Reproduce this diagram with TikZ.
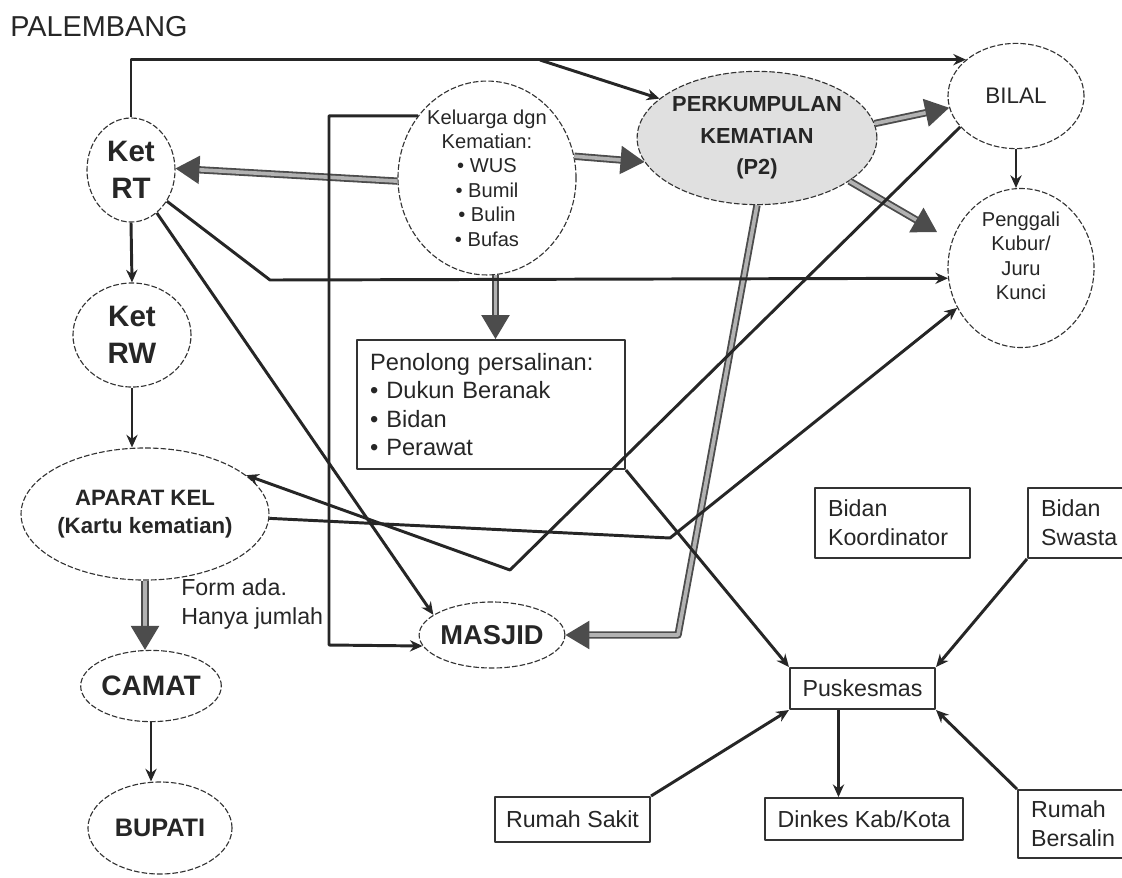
\documentclass[tikz,border=0pt]{standalone}
\usepackage{fontspec}
\setmainfont{Liberation Sans}
\usetikzlibrary{arrows.meta,shapes.geometric}

\tikzset{
  oval/.style={ellipse, draw=black!80, dash pattern=on 4pt off 1.5pt, line width=0.8pt, inner sep=0pt, align=center, text=black!85},
  kotak/.style={rectangle, draw=black!80, line width=1.3pt, inner sep=0pt, text=black!85},
  kiri/.style={kotak, align=left, inner xsep=0.33cm},
  panah/.style={draw=black!85, line width=2.1pt, -{Stealth[length=9pt,width=8pt]}},
  dobel/.style={draw=black!70, double=black!30, double distance=2.6pt, line width=1.3pt, -{Triangle[length=17pt,width=20pt]}},
}

\begin{document}
\begin{tikzpicture}[x=0.025cm, y=-0.025cm, line join=round]
  \useasboundingbox (0,0) rectangle (1122,877);

  \node[anchor=west, inner sep=0pt, text=black!85, font=\fontsize{20.5}{24}\selectfont] (judul) at (10,27) {PALEMBANG};

  %left column
  \node[oval, minimum width=2.2cm, minimum height=2.6cm, font=\fontsize{21}{26}\selectfont\bfseries] (rt) at (131,170) {Ket\\RT};
  \node[oval, minimum width=2.95cm, minimum height=2.6cm, font=\fontsize{21}{26}\selectfont\bfseries] (rw) at (132,335) {Ket\\RW};
  \node[oval, minimum width=4.85cm, minimum height=3.3cm, font=\fontsize{15.8}{20}\selectfont\bfseries] (kel) at (145,514) {APARAT KEL\\(Kartu kematian)};
  \node[oval, minimum width=3.4cm, minimum height=1.78cm, font=\fontsize{20}{24}\selectfont\bfseries] (cmt) at (151,686) {CAMAT};
  \node[oval, minimum width=3.6cm, minimum height=2.3cm, font=\fontsize{18}{22}\selectfont\bfseries] (bpt) at (160,828) {BUPATI};
  \node[anchor=west, inner sep=0pt, align=left, text=black!85, font=\fontsize{16.5}{20}\selectfont] (form) at (181,604) {Form ada.\\Hanya jumlah};

  %middle
  \node[oval, minimum width=4.45cm, minimum height=4.6cm, font=\fontsize{14.3}{17.4}\selectfont] (klg) at (487,178)
       {Keluarga dgn\\Kematian:\\• WUS\\• Bumil\\• Bulin\\• Bufas};
  \node[oval, fill=black!12, minimum width=4.75cm, minimum height=3.33cm, font=\fontsize{15.5}{22.4}\selectfont\bfseries] (ptwo) at (757,138)
       {PERKUMPULAN\\KEMATIAN\\(P2)};
  \node[kiri, minimum width=6.7cm, minimum height=3.23cm, text width=6.04cm, font=\fontsize{16.8}{20}\selectfont] (pen) at (491,404.5)
       {Penolong persalinan:\\• Dukun Beranak\\• Bidan\\• Perawat};
  \node[oval, minimum width=3.28cm, minimum height=1.65cm, font=\fontsize{19.4}{23}\selectfont\bfseries] (msj) at (492,635) {MASJID};

  %right
  \node[oval, minimum width=3.4cm, minimum height=2.63cm, font=\fontsize{16}{20}\selectfont] (bil) at (1016,96) {BILAL};
  \node[oval, minimum width=3.65cm, minimum height=3.88cm, font=\fontsize{14.3}{17.4}\selectfont] (gal) at (1021,268)
       {Penggali\\Kubur/\\Juru\\Kunci\\\mbox{}};

  %boxes
  \foreach \nm/\x/\y/\w/\h/\txt in {bk/892.5/523/3.88/1.75/{Bidan\\Koordinator}, bs/1081.5/523/2.68/1.75/{Bidan\\Swasta},
                                    rb/1076.5/824/2.93/1.7/{Rumah\\Bersalin}}{
    \node[kiri, minimum width=\w cm, minimum height=\h cm, text width=\w cm-0.66cm, font=\fontsize{16.5}{20.5}\selectfont] (\nm) at (\x,\y) {\txt};
  }
  \foreach \nm/\x/\y/\w/\h/\txt in {pk/862.5/688.5/3.63/1.03/Puskesmas, rs/572.5/819.5/3.88/1.13/{Rumah Sakit},
                                    dk/864/819/4.95/1.05/{Dinkes Kab/Kota}}{
    \node[kotak, minimum width=\w cm, minimum height=\h cm, font=\fontsize{16.5}{20}\selectfont] (\nm) at (\x,\y) {\txt};
  }

  \coordinate (cab) at (540,60);
  \coordinate (ujung) at (937,232);
  \coordinate (sudut) at (678,635);

  %double arrows
  \draw[dobel] (klg.182) -- (rt.2);
  \draw[dobel] (klg.14) -- (ptwo.192);
  \draw[dobel] (klg.275) -- (klg.275 |- pen.north);
  \draw[dobel] (ptwo.7) -- (bil.190);
  \draw[dobel] (ptwo.335) -- (ujung);
  \draw[dobel] (ptwo.south) -- (sudut) -- (msj.east);
  \draw[dobel] (kel.south) -- (kel.south |- cmt.north);

  %plain arrows
  \draw[panah] (rt.south) -- (rw.north);
  \draw[panah] (rw.south) -- (rw.south |- kel.north);
  \draw[panah] (cmt.south) -- (cmt.south |- bpt.north);
  \draw[panah] (bil.south) -- (bil.south |- gal.north);
  \draw[panah] (rt.north) |- (bil.144);
  \draw[panah] (cab) -- (ptwo.158);
  \draw[panah] (rt.-41) -- (270,280) -- (gal.188);
  \draw[panah] (rt.-59) -- (msj.161);
  \draw[panah] (klg.138) -| (329,645) -- (msj.189);
  \draw[panah] (bil.209) -- (510,570) -- (kel.21);
  \draw[panah] (kel.-2) -- (670,538) -- (gal.212);
  \draw[panah] (pen.south east) -- (pk.north west);
  \draw[panah] (bs.south west) -- (pk.north east);
  \draw[panah] (rs.north east) -- (pk.south west);
  \draw[panah] ([xshift=-0.6cm]pk.south) -- ([xshift=-0.6cm]pk.south |- dk.north);
  \draw[panah] (rb.north west) -- (pk.south east);
\end{tikzpicture}
\end{document}
